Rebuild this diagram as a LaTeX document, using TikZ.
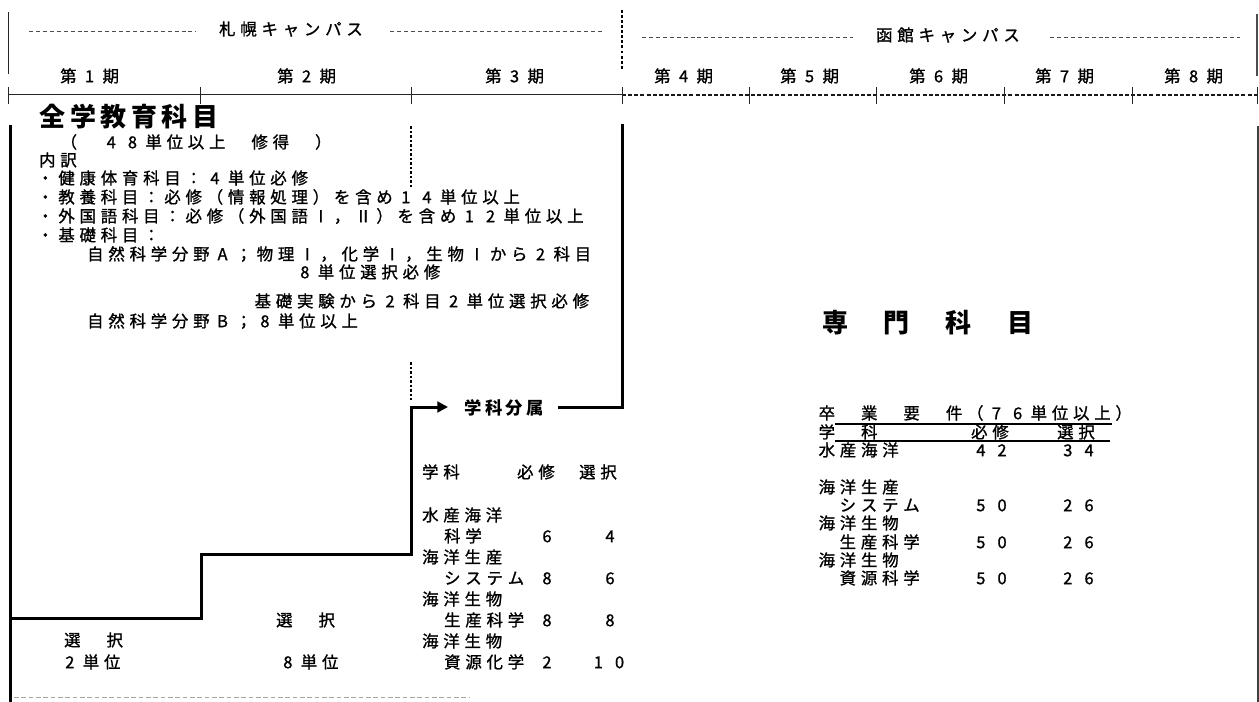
\documentclass[tikz,border=0pt]{standalone}
\usepackage{fontspec}
\setmainfont{Noto Sans CJK JP}
\newfontfamily\bodyf{Noto Sans CJK JP}[FakeBold=1.1]
\usetikzlibrary{arrows.meta}
\newlength\gp
\def\gridend{\gridend}
\def\gridtext#1{\gridloop#1\gridend}
\def\gridloop#1{\ifx#1\gridend\else\makebox[\gp][c]{#1}\expandafter\gridloop\fi}
\newcommand\gt[2]{\setlength\gp{#1}\gridtext{#2}}
\tikzset{
  jt/.style={anchor=west, inner sep=0pt, font=\bodyf\fontsize{12.3}{14}\selectfont, text height=10.8pt, text depth=1.5pt},
  jn/.style={anchor=center, inner sep=0pt, font=\bodyf\fontsize{12.3}{14}\selectfont, text height=10.8pt, text depth=1.5pt},
  jbig/.style={anchor=west, inner sep=0pt, font=\bfseries\fontsize{19.5}{22}\selectfont, text height=17.1pt, text depth=2.4pt},
  jmid/.style={anchor=west, inner sep=0pt, font=\bfseries\fontsize{13}{15}\selectfont, text height=11.4pt, text depth=1.6pt},
  heavy/.style={line width=2.25pt},
  thinrule/.style={line width=0.75pt, black!85},
  tickln/.style={line width=0.75pt, black!85},
  tldash/.style={line width=1pt, black!90, dash pattern=on 3pt off 1.6pt},
  campdash/.style={line width=0.7pt, black!70, dash pattern=on 3pt off 2.2pt},
  sepdots/.style={line width=2.2pt, dash pattern=on 2.2pt off 1.6pt},
  dotv/.style={line width=1.1pt, dash pattern=on 1.9pt off 1.5pt},
  faint/.style={line width=0.6pt, black!35, dash pattern=on 3.5pt off 2pt},
  uline/.style={line width=0.9pt},
}
\begin{document}
\begin{tikzpicture}[x=0.75pt,y=-0.75pt]
\useasboundingbox[fill=white] (0,0) rectangle (1259,702);

% ---------- header ----------
\draw[thinrule] (8,12) -- (8,74);
\draw[line width=1.1pt, black!70] (1257,14) -- (1257,76);
\draw[sepdots] (622,10) -- (622,70);

\node[jt] (sap) at (216.5,29) {\gt{15.9pt}{札幌キャンパス}};
\draw[campdash] (29,31) -- (196,31);
\draw[campdash] (390,31) -- (602,31);
\node[jt] (hak) at (873.5,35) {\gt{15.9pt}{函館キャンパス}};
\draw[campdash] (642,37) -- (853,37);
\draw[campdash] (1050,37) -- (1240,37);

\node[jt] (p1) at (57.5,76) {\gt{15.9pt}{第1期}};
\node[jt] (p2) at (274.5,76) {\gt{15.9pt}{第2期}};
\node[jt] (p3) at (482.5,76) {\gt{15.9pt}{第3期}};
\node[jt] (p4) at (651.5,76) {\gt{15.9pt}{第4期}};
\node[jt] (p5) at (777.5,76) {\gt{15.9pt}{第5期}};
\node[jt] (p6) at (906.5,76) {\gt{15.9pt}{第6期}};
\node[jt] (p7) at (1032.5,76) {\gt{15.9pt}{第7期}};
\node[jt] (p8) at (1161.5,76) {\gt{15.9pt}{第8期}};

% timeline
\draw[thinrule] (8,95) -- (622,95);
\draw[tldash] (622,95) -- (1259,95);
\foreach \tx in {8,200,411,622,749,876,1004,1132,1257}
  \draw[tickln] (\tx,87) -- (\tx,104);

% ---------- borders ----------
\coordinate (lbt) at (10,125);
\coordinate (lbb) at (10,702);
\draw[heavy] (lbt) -- (lbb);
\coordinate (rbt) at (1258,126);
\coordinate (rbb) at (1258,702);
\draw[line width=1.3pt, black!75] (rbt) -- (rbb);

% ---------- general education block ----------
\node[jbig] (zen) at (37,117) {\gt{22.95pt}{全学教育科目}};
\node[jt] (tan) at (58,142) {\gt{15.9pt}{（　48単位以上　修得　）}};
\node[jt] (uch) at (36.5,160) {\gt{15.9pt}{内訳}};
\node[jt] (l1) at (34.5,178) {\gt{15.9pt}{・健康体育科目：4単位必修}};
\node[jt] (l2) at (34.5,197) {\gt{15.9pt}{・教養科目：必修（情報処理）を含め14単位以上}};
\node[jt] (l3) at (34.5,216) {\gt{15.9pt}{・外国語科目：必修（外国語Ⅰ，Ⅱ）を含め12単位以上}};
\node[jt] (l4) at (34.5,235) {\gt{15.9pt}{・基礎科目：}};
\node[jt] (l5) at (84.5,254) {\gt{15.9pt}{自然科学分野A；物理Ⅰ，化学Ⅰ，生物Ⅰから2科目}};
\node[jt] (l6) at (294,272) {\gt{15.9pt}{8単位選択必修}};
\node[jt] (l7) at (252,301) {\gt{15.9pt}{基礎実験から2科目2単位選択必修}};
\node[jt] (l8) at (84.5,321) {\gt{15.9pt}{自然科学分野B；8単位以上}};

% dotted guides on the 2nd/3rd period boundary
\coordinate (dg1) at (411,126);
\coordinate (dg2) at (411,188);
\coordinate (dg3) at (411,362);
\coordinate (dg4) at (411,400);
\draw[dotv] (dg1) -- (dg2);
\draw[dotv] (dg3) -- (dg4);

% ---------- step line and department assignment ----------
\node[jmid] (gak) at (463,408) {\gt{15.4pt}{学科分属}};
\coordinate (st0) at (10,618);
\coordinate (st1) at (201,618);
\coordinate (st2) at (201,554);
\coordinate (st3) at (411,554);
\coordinate (st4) at (411,407);
\coordinate (arr) at (448,407);
\draw[heavy, -{Triangle[length=8pt,width=8pt]}] (st0) -- (st1) -- (st2) -- (st3) -- (st4) -- (arr);
\coordinate (b0) at (558,407);
\coordinate (b1) at (622,407);
\coordinate (b2) at (622,124);
\draw[heavy] (b0) -- (b1) -- (b2);

% ---------- elective labels ----------
\node[jt] (e1) at (61.5,640) {\gt{15.9pt}{選　択}};
\node[jt] (e2) at (59,662) {\gt{15.9pt}{2単位}};
\node[jt] (e3) at (273.5,620) {\gt{15.9pt}{選　択}};
\node[jt] (e4) at (277,662) {\gt{15.9pt}{8単位}};

% ---------- middle table ----------
\node[jt] (mh1) at (419.5,472) {\gt{15.9pt}{学科}};
\node[jt] (mh2) at (514.5,472) {\gt{15.9pt}{必修}};
\node[jt] (mh3) at (576.5,472) {\gt{15.9pt}{選択}};
\node[jt] (m1) at (419.5,515) {\gt{15.9pt}{水産海洋}};
\node[jt] (m1b) at (441.5,536) {\gt{15.9pt}{科学}};
\node[jn] (m1r) at (547,536) {6};
\node[jn] (m1s) at (610,536) {4};
\node[jt] (m2) at (419.5,557) {\gt{15.9pt}{海洋生産}};
\node[jt] (m2b) at (441.5,578) {\gt{15.9pt}{システム}};
\node[jn] (m2r) at (547,578) {8};
\node[jn] (m2s) at (610,578) {6};
\node[jt] (m3) at (419.5,599) {\gt{15.9pt}{海洋生物}};
\node[jt] (m3b) at (441.5,620) {\gt{15.9pt}{生産科学}};
\node[jn] (m3r) at (547,620) {8};
\node[jn] (m3s) at (610,620) {8};
\node[jt] (m4) at (419.5,641) {\gt{15.9pt}{海洋生物}};
\node[jt] (m4b) at (441.5,662) {\gt{15.9pt}{資源化学}};
\node[jn] (m4r) at (547,662) {2};
\node[jt] (m4s) at (587.5,662) {\gt{15.9pt}{10}};

% ---------- specialised subjects ----------
\node[jbig] (sen) at (804,323) {\gt{46.3pt}{専門科目}};
\node[jt] (sot) at (816,413) {\gt{15.9pt}{卒　業　要　件（76単位以上）}};
\coordinate (u1a) at (835,424);
\coordinate (u1b) at (1112,424);
\draw[uline] (u1a) -- (u1b);
\node[jt] (rh1) at (816,432) {\gt{15.9pt}{学　科}};
\node[jt] (rh2) at (968.5,432) {\gt{15.9pt}{必修}};
\node[jt] (rh3) at (1054.5,432) {\gt{15.9pt}{選択}};
\coordinate (u2a) at (835,441);
\coordinate (u2b) at (1110,441);
\draw[uline] (u2a) -- (u2b);
\node[jt] (r1) at (816,450) {\gt{15.9pt}{水産海洋}};
\node[jt] (r1r) at (970,450) {\gt{15.9pt}{42}};
\node[jt] (r1s) at (1057,450) {\gt{15.9pt}{34}};
\node[jt] (r2) at (816,487) {\gt{15.9pt}{海洋生産}};
\node[jt] (r2b) at (837,505) {\gt{15.9pt}{システム}};
\node[jt] (r2r) at (970,505) {\gt{15.9pt}{50}};
\node[jt] (r2s) at (1057,505) {\gt{15.9pt}{26}};
\node[jt] (r3) at (816,523) {\gt{15.9pt}{海洋生物}};
\node[jt] (r3b) at (837,542) {\gt{15.9pt}{生産科学}};
\node[jt] (r3r) at (970,542) {\gt{15.9pt}{50}};
\node[jt] (r3s) at (1057,542) {\gt{15.9pt}{26}};
\node[jt] (r4) at (816,560) {\gt{15.9pt}{海洋生物}};
\node[jt] (r4b) at (837,578) {\gt{15.9pt}{資源科学}};
\node[jt] (r4r) at (970,578) {\gt{15.9pt}{50}};
\node[jt] (r4s) at (1057,578) {\gt{15.9pt}{26}};

% faint bottom rule
\coordinate (fa) at (14,697);
\coordinate (fb) at (470,697);
\draw[faint] (fa) -- (fb);
\end{tikzpicture}
\end{document}
